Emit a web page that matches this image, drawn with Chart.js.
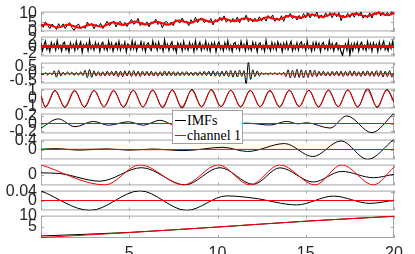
<!DOCTYPE html>
<html>
<head>
<meta charset="utf-8">
<script src="https://cdn.jsdelivr.net/npm/chart.js@4/dist/chart.umd.min.js"></script>
<style>
  html, body { margin: 0; padding: 0; background: #fff; overflow: hidden; }
  #wrap { position: relative; width: 415px; height: 254px; overflow: hidden; }
  #wrap canvas { position: absolute; left: 0; }
  #legend { position: absolute; left: 172px; top: 110px; width: 69px; height: 32px; background: #fff;
            border: 1px solid #a0a0a0; font: 14px 'Liberation Serif', 'Times New Roman', serif; z-index: 5; }
  #legend .row { position: absolute; left: 0; height: 15px; line-height: 15px; white-space: nowrap; }
  #legend .swatch { position: absolute; left: 2px; top: 7px; width: 11px; height: 0; }
  #legend .txt { position: absolute; left: 14px; top: 0; }
</style>
</head>
<body>
<div id="wrap"><div id="legend"></div></div>
<script>
// x axis ticks (time, 0..20)
const xTicks = [5, 10, 15, 20];
const seriesNames = ['IMFs', 'channel 1'];
const seriesColors = ['#000000', '#ff0000'];

// sample grids for the noisy traces
const tSignal = Array.from({ length: 161 }, (_, i) => i / 8);
const tImf1 = Array.from({ length: 241 }, (_, i) => i / 12);
const tImf2 = tSignal;

// panel 1: signal
const signalBlack = [
  4.0,2.3,5.3,3.3,1.6,4.1,3.0,1.1,4.3,2.1, 4.2,1.6,3.8,4.8,2.1,0.6,3.1,4.1,1.5,2.8,
  1.7,5.2,3.1,4.5,1.5,3.9,2.4,4.5,1.6,3.7, 5.6,3.2,4.3,5.8,2.5,4.9,5.5,3.1,5.0,2.7,
  4.9,6.6,4.0,4.8,7.2,3.2,5.1,3.5,5.3,2.5, 5.2,4.6,6.8,3.8,5.2,2.0,5.1,5.4,3.5,5.2,
  3.2,6.5,5.6,4.7,7.4,5.0,5.7,3.2,6.5,4.6, 7.8,4.9,6.8,7.4,4.8,6.2,5.1,7.1,3.6,6.6,
  5.1,7.9,5.9,8.6,5.1,6.8,5.0,7.2,5.7,7.9, 4.8,7.5,6.3,9.0,5.4,7.3,5.2,7.3,5.6,8.1,
  5.7,8.0,5.7,8.8,7.1,9.1,5.6,7.5,6.0,8.7, 5.6,9.0,7.7,10.0,7.1,8.5,6.3,8.9,7.0,9.9,
  7.5,10.3,7.5,9.8,8.3,10.8,7.2,9.2,7.3,10.3, 8.3,10.4,7.6,10.4,8.1,10.4,5.9,9.1,7.7,10.0,
  7.7,10.2,7.9,10.7,8.5,10.8,7.4,9.2,7.6,10.3, 7.4,10.3,9.2,11.5,8.6,10.6,8.6,10.5,8.8,11.2,
  9.8
];
const signalRed = [
  [0,3.2],[0.31,4.0],[0.94,2.2],[1.56,3.7],[2.19,2.0],[2.81,3.8],[3.44,2.6],[4.06,4.9],[4.69,3.6],
  [5.31,5.5],[5.94,3.8],[6.56,5.3],[7.19,3.7],[7.81,6.0],[8.44,4.7],[9.06,6.7],[9.69,5.2],
  [10.31,7.1],[10.94,5.7],[11.56,7.3],[12.19,5.9],[12.81,7.8],[13.44,6.6],[14.06,8.7],[14.69,7.5],
  [15.31,9.4],[15.94,8.1],[16.56,9.7],[17.19,8.0],[17.81,9.8],[18.44,8.3],[19.06,10.2],[19.69,9.0],[20,10.2]
];

// panel 2: IMF 1
const imf1Black = [
  0.9,-1.2,0.4,1.5,-0.8,0.2,-1.4,1.1,-0.3,0.7,-1.0,1.6,-0.5,0.3,-1.3,0.8,1.2,-0.9,0.1,-1.5,
  1.0,-0.4,0.6,-1.1,1.4,-0.7,0.2,1.3,-1.6,0.5,-0.2,0.9,-1.2,1.7,-0.6,0.4,-1.0,1.1,-0.3,0.8,
  -1.4,0.6,1.2,-0.8,0.3,-1.1,1.5,-0.5,0.9,-1.3,0.2,1.0,-0.7,1.4,-1.0,0.5,-0.4,1.2,-1.5,0.7,
  0.3,-0.9,1.6,-0.6,1.1,-1.2,0.4,-0.2,1.3,-0.8,0.9,-1.4,0.6,1.0,-0.5,-1.1,1.5,-0.3,0.8,-1.0,
  1.2,-0.6,0.2,-1.3,1.8,-0.4,0.7,-1.1,0.5,1.3,-0.9,0.1,-1.6,1.0,-0.2,0.8,-1.2,1.4,-0.7,0.3,
  -1.0,1.1,-0.4,0.6,-1.4,1.6,-0.8,0.2,1.2,-1.1,0.4,-0.6,1.5,-0.9,0.7,-1.3,0.9,-0.2,1.1,-1.5,
  0.5,1.3,-0.7,0.2,-1.2,1.0,-0.5,1.6,-0.9,0.3,-1.4,0.8,1.1,-0.6,0.4,-1.0,1.4,-0.3,0.6,-1.2,
  1.5,-0.8,0.1,-1.1,1.2,-0.4,0.9,-1.5,0.6,1.0,-0.7,0.3,-1.3,1.7,-0.5,0.2,-1.2,1.1,-0.6,0.8,
  -1.0,1.3,-0.2,0.7,-1.4,0.9,-0.6,1.2,-0.9,0.4,1.4,-1.2,0.3,-0.7,1.0,-1.0,0.8,1.3,-0.4,0.6,
  -1.1,1.5,-0.5,0.2,-1.3,1.0,-0.8,1.2,-0.3,0.9,-1.4,0.6,1.1,-0.7,0.3,-1.0,1.6,-0.5,0.8,-1.2,
  0.4,1.0,-0.9,0.2,-1.5,-2.5,-0.6,0.7,-1.0,1.4,-2.4,0.5,-1.2,0.9,-0.4,1.1,-1.3,0.6,1.2,-0.8,
  0.3,-1.1,1.4,-0.5,0.8,-1.3,1.0,-0.2,0.6,-1.4,1.2,-0.7,0.4,1.5,-0.9,0.1,-1.2,0.9,-0.6,1.3,
  -0.4
];
const imf1Red = [[0,0],[20,0]];

// panel 3: IMF 2
const imf2Black = [
  0.0,-0.07,0.08,-0.1,0.07,-0.08,
  0.21,-0.25,0.24,-0.17,
  0.11,-0.1,0.13,-0.08,0.11,-0.13,0.1,-0.11,0.14,-0.13,
  0.25,-0.29,0.31,-0.27,0.21,
  -0.17,0.15,-0.18,0.14,-0.17,0.18,-0.14,0.17,-0.15,0.2,
  -0.21,0.18,-0.22,0.2,-0.17,0.21,-0.2,0.22,-0.18,0.17,-0.2,0.18,-0.15,
  0.17,-0.15,0.18,-0.17,0.14,-0.18,0.15,-0.17,0.2,-0.15,0.17,-0.14,0.15,-0.17,0.14,-0.15,
  0.14,-0.13,0.15,-0.14,0.11,-0.14,0.13,-0.15,0.14,-0.13,0.17,-0.14,
  0.18,-0.17,0.2,-0.18,0.17,-0.2,0.18,-0.17,0.21,
  -0.22,0.24,-0.25,0.22,-0.24,0.25,
  -0.2,0.22,-0.75,0.85,-0.42,0.28,-0.21,
  0.2,-0.17,
  0.08,-0.07,0.06,-0.08,0.07,-0.06,0.08,-0.07,0.07,-0.08,0.1,
  -0.21,0.28,-0.31,0.25,-0.29,0.32,-0.27,0.28,-0.31,0.24,-0.28,0.27,-0.22,0.25,-0.21,
  0.17,-0.15,0.18,-0.17,0.14,-0.18,0.17,-0.15,0.18,-0.17,
  0.18,-0.2,0.17,-0.18,0.21,-0.17,0.2,-0.18,0.15,-0.2,0.18,-0.17,0.21,-0.18,0.17,-0.2,
  0.22,-0.2,0.21,-0.24,0.18,-0.21,0.22,-0.25,0.07
];
const imf2Red = [[0,0.01],[5,-0.01],[10,0.01],[15,-0.01],[20,0]];

// panel 4: IMF 3
const imf3Black = [
  [0,0.35],[0.25,-1.05],[0.80,0.95],[1.35,-1.08],[1.91,0.92],[2.46,-1.05],[3.01,0.97],[3.57,-1.02],
  [4.12,0.93],[4.67,-1.06],[5.23,1.0],[5.78,-1.03],[6.33,1.02],[6.89,-1.1],[7.44,1.05],[7.99,-1.18],
  [8.55,1.1],[9.10,-1.0],[9.65,1.08],[10.20,-0.98],[10.76,1.0],[11.31,-1.02],[11.86,0.97],[12.42,-1.0],
  [12.97,0.95],[13.52,-1.03],[14.07,1.0],[14.63,-0.98],[15.18,1.0],[15.73,-1.04],[16.29,1.02],[16.84,-1.0],
  [17.39,1.05],[17.95,-1.05],[18.50,1.22],[19.05,-1.1],[19.60,1.1],[20,-0.35]
];
const imf3Red = [
  [0,0.3],[0.24,-1],[0.79,1],[1.34,-1],[1.90,1],[2.45,-1],[3.00,1],[3.56,-1],[4.11,1],[4.66,-1],
  [5.22,1],[5.77,-1],[6.32,1],[6.88,-1],[7.43,1],[7.98,-1],[8.54,1],[9.09,-1],[9.64,1],[10.19,-1],
  [10.75,1],[11.30,-1],[11.85,1],[12.41,-1],[12.96,1],[13.51,-1],[14.06,1],[14.62,-1],[15.17,1],
  [15.72,-1],[16.28,1],[16.83,-1],[17.38,1],[17.94,-1],[18.49,1],[19.04,-1],[19.59,1],[20,-0.5]
];

// panel 5: IMF 4
const imf4Black = [
  [0,-0.12],[0.98,0.12],[1.93,-0.085],[2.97,0.055],[3.82,-0.045],[4.95,0.045],[5.8,-0.045],[6.74,0.085],
  [7.6,-0.04],[8.5,0.04],[9.4,-0.03],[10.3,0.03],[11.0,-0.02],[11.6,0.01],[12.98,-0.04],[13.92,0.055],
  [14.58,-0.01],[15.05,0.02],[16.38,-0.12],[17.32,0.2],[18.74,-0.24],[20,0.27]
];
const imf4Red = [[0,0],[20,0]];

// panel 6: IMF 5
const imf5Black = [
  [0,0.01],[0.8,0.04],[2.2,-0.03],[3.7,0.03],[5.0,-0.03],[6.3,0.02],[8.1,-0.05],[10.3,0.1],
  [11.7,-0.09],[13.8,0.27],[15.4,-0.32],[17.0,0.39],[18.5,-0.45],[20,0.47]
];
const imf5Red = [[0,0],[3,0.015],[6,-0.01],[10,0.005],[20,0]];

// panel 7: IMF 6
const imf6Black = [
  [0,0.3],[1.08,0.2],[3.34,-0.86],[5.70,1.02],[8.16,-1.38],[10.14,1.02],[12.03,-1.3],[13.54,1.0],
  [15.43,-0.98],[17.04,0.5],[18.83,-0.38],[20,0.1]
];
const imf6Red = [
  [0,1.42],[3.63,-1.38],[5.61,1.42],[8.07,-1.38],[10.05,1.42],[11.84,-1.38],[13.54,1.42],
  [15.53,-1.38],[17.04,1.42],[18.83,-1.38],[20,1.1]
];

// panel 8: IMF 7
const imf7Black = [
  [0,0.044],[2.78,-0.045],[5.61,0.044],[8.25,-0.045],[10.52,0.021],[12.03,0.011],[14.49,-0.02],
  [16.57,0.02],[18.64,-0.013],[20,0.001]
];
const imf7Red = [[0,0],[20,0]];

// panel 9: residue / trend
const trendBlack = [[0,0.9],[5,2.5],[10,4.9],[15,7.5],[20,9.7]];
const trendRed = [[0,0.2],[2.5,1.3],[5,2.4],[10,4.9],[15,7.5],[20,9.7]];

// y tick labels per panel
const yTicks = [[0, 5, 10], [-2, 0, 2], [-0.5, 0, 0.5], [-1, 0, 1], [-0.2, 0, 0.2], [0, 0.4], [0], [0, 0.04], [5, 10]];

const pts = (xs, ys) => ys.map((y, i) => ({ x: xs[i], y }));
const pairs = arr => arr.map(([x, y]) => ({ x, y }));

const panels = [
  { black: pts(tSignal, signalBlack), red: pairs(signalRed), min: 0, max: 11, smoothBlack: false, blackWidth: 1, redWidth: 2 },
  { black: pts(tImf1, imf1Black), red: pairs(imf1Red), min: -2.8, max: 2.8, smoothBlack: false, blackWidth: 1.2, redWidth: 3 },
  { black: pts(tImf2, imf2Black), red: pairs(imf2Red), min: -0.7, max: 0.8, smoothBlack: true, blackWidth: 1, redWidth: 1 },
  { black: pairs(imf3Black), red: pairs(imf3Red), min: -1.2, max: 1.2, smoothBlack: true, blackWidth: 1, redWidth: 1 },
  { black: pairs(imf4Black), red: pairs(imf4Red), min: -0.26, max: 0.26, smoothBlack: true, blackWidth: 1, redWidth: 1 },
  { black: pairs(imf5Black), red: pairs(imf5Red), min: -0.45, max: 0.45, smoothBlack: true, blackWidth: 1, redWidth: 1 },
  { black: pairs(imf6Black), red: pairs(imf6Red), min: -1.45, max: 1.45, smoothBlack: true, blackWidth: 1, redWidth: 1 },
  { black: pairs(imf7Black), red: pairs(imf7Red), min: -0.045, max: 0.045, smoothBlack: true, blackWidth: 1, redWidth: 1 },
  { black: pairs(trendBlack), red: pairs(trendRed), min: 0, max: 10, smoothBlack: true, blackWidth: 1, redWidth: 1 }
];
const panelTops = [10, 35, 61, 87, 112, 138, 163, 189, 214];
const panelHeights = [23, 23, 24, 23, 23, 23, 24, 23, 24];

const tickFont = { family: "'Liberation Sans', Arial, sans-serif", size: 16 };
const textColor = '#262626';

// gray box around each panel plus small inward ticks
const panelFrame = {
  id: 'panelFrame',
  beforeDatasetsDraw(chart) {
    const { ctx, chartArea: a, scales } = chart;
    ctx.save();
    ctx.strokeStyle = '#a6a6a6';
    ctx.lineWidth = 1;
    ctx.strokeRect(a.left + 0.5, a.top + 0.5, a.right - a.left - 1, a.bottom - a.top - 1);
    ctx.beginPath();
    scales.y.ticks.forEach(t => {
      const y = Math.round(scales.y.getPixelForValue(t.value)) + 0.5;
      ctx.moveTo(a.left, y); ctx.lineTo(a.left + 3, y);
      ctx.moveTo(a.right - 3, y); ctx.lineTo(a.right, y);
    });
    scales.x.ticks.forEach(t => {
      const x = Math.round(scales.x.getPixelForValue(t.value)) + 0.5;
      ctx.moveTo(x, a.top); ctx.lineTo(x, a.top + 3);
      ctx.moveTo(x, a.bottom - 3); ctx.lineTo(x, a.bottom);
    });
    ctx.stroke();
    ctx.restore();
  }
};

const wrap = document.getElementById('wrap');
panels.forEach((p, k) => {
  const last = k === panels.length - 1;
  const pad = 12;
  const c = document.createElement('canvas');
  c.width = 415;
  c.height = pad + panelHeights[k] + (last ? 22 : pad);
  c.style.top = (panelTops[k] - pad) + 'px';
  wrap.appendChild(c);

  new Chart(c, {
    type: 'line',
    data: {
      datasets: [
        {
          label: seriesNames[1], data: p.red, borderColor: seriesColors[1], borderWidth: p.redWidth,
          pointRadius: 0, tension: 0, cubicInterpolationMode: 'monotone'
        },
        {
          label: seriesNames[0], data: p.black, borderColor: seriesColors[0], borderWidth: p.blackWidth,
          pointRadius: 0, tension: 0, cubicInterpolationMode: p.smoothBlack ? 'monotone' : 'default'
        }
      ]
    },
    options: {
      responsive: false,
      animation: false,
      devicePixelRatio: 1,
      events: [],
      layout: { padding: { left: 0, right: 21, top: pad, bottom: last ? 0 : pad } },
      plugins: { legend: { display: false }, tooltip: { enabled: false } },
      scales: {
        x: {
          type: 'linear', min: 0, max: 20,
          afterBuildTicks: s => { s.ticks = xTicks.map(v => ({ value: v })); },
          afterFit: s => { s.height = last ? 22 : 0; },
          grid: { display: false, drawTicks: false },
          border: { display: false },
          ticks: { display: last, autoSkip: false, maxRotation: 0, padding: 6, color: textColor, font: tickFont }
        },
        y: {
          min: p.min, max: p.max,
          afterBuildTicks: s => { s.ticks = yTicks[k].map(v => ({ value: v })); },
          afterFit: s => { s.width = 41; },
          grid: { display: false, drawTicks: false },
          border: { display: false },
          ticks: { autoSkip: false, padding: 4, color: textColor, font: tickFont, callback: v => String(v) }
        }
      }
    },
    plugins: [panelFrame]
  });
});

// legend box
const legend = document.getElementById('legend');
seriesNames.forEach((name, i) => {
  const row = document.createElement('div');
  row.className = 'row';
  row.style.top = (2 + 15 * i) + 'px';
  row.innerHTML = '<span class="swatch" style="border-top:1.5px solid ' + seriesColors[i] + '"></span>' +
                  '<span class="txt">' + name + '</span>';
  legend.appendChild(row);
});
</script>
</body>
</html>
